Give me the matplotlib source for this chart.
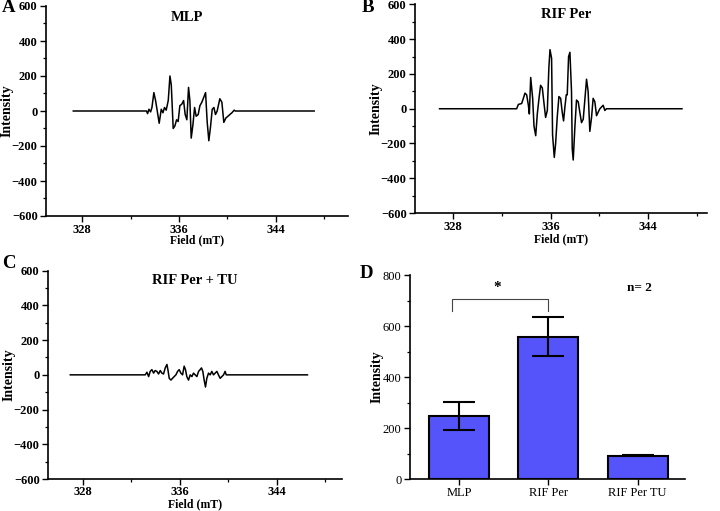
import matplotlib
matplotlib.use("Agg")
import matplotlib.pyplot as plt
from matplotlib.ticker import MultipleLocator

plt.rcParams['font.family'] = ['Liberation Serif', 'DejaVu Serif']

# ---- Data ----
field_A = [327.26, 333.32, 333.41, 333.52, 333.66, 333.77, 333.93, 334.07, 334.21, 334.37,
           334.54, 334.68, 334.81, 334.95, 335.12, 335.26, 335.37, 335.53, 335.67, 335.81,
           335.94, 336.08, 336.25, 336.39, 336.52, 336.66, 336.80, 336.91, 337.02, 337.16,
           337.30, 337.43, 337.60, 337.74, 337.90, 338.07, 338.21, 338.34, 338.48, 338.62,
           338.76, 338.90, 339.03, 339.17, 339.39, 339.56, 339.72, 339.89, 340.06, 340.22,
           340.39, 340.58, 340.66, 347.20]
int_A = [0, 0, -15, 10, -5, 20, 105, 60, 0, -70,
         10, -10, 20, 5, 60, 200, 150, -100, -85, -50,
         -60, 30, 40, 60, -20, -50, 135, 60, -155, -80,
         20, -30, -20, 30, 50, 80, 105, -60, -170, -90,
         10, 20, -20, 0, 70, 50, -65, -40, -30, -20,
         -10, 5, 0, 0]

field_B = [326.91, 333.22, 333.36, 333.63, 333.77, 333.90, 334.04, 334.18, 334.26, 334.37,
           334.53, 334.64, 334.78, 334.91, 335.05, 335.18, 335.32, 335.46, 335.59, 335.73,
           335.86, 335.95, 336.08, 336.16, 336.30, 336.41, 336.54, 336.68, 336.82, 336.95,
           337.06, 337.17, 337.28, 337.36, 337.47, 337.58, 337.71, 337.77, 337.85, 337.99,
           338.12, 338.26, 338.39, 338.53, 338.67, 338.80, 338.94, 339.07, 339.21, 339.35,
           339.48, 339.62, 339.76, 339.89, 340.03, 340.30, 340.44, 340.57, 346.75]
int_B = [0, 0, 25, 30, 60, 90, 80, 20, -30, 180,
         60, -100, -155, -30, 60, 135, 120, 30, -50, -10,
         240, 340, 290, -150, -280, -200, -50, 70, 60, -20,
         -70, 10, 80, 80, 300, 325, 100, -230, -295, -100,
         50, 40, -20, -80, -60, 50, 170, 100, -130, -50,
         60, 40, -40, -20, 0, 20, -10, 0, 0]

field_C = [326.99, 333.17, 333.31, 333.45, 333.58, 333.72, 333.86, 333.99, 334.13, 334.27,
           334.41, 334.54, 334.68, 334.82, 334.96, 335.04, 335.15, 335.29, 335.42, 335.56,
           335.70, 335.84, 335.97, 336.11, 336.25, 336.38, 336.49, 336.60, 336.74, 336.88,
           337.02, 337.15, 337.29, 337.43, 337.57, 337.70, 337.81, 337.92, 338.03, 338.14,
           338.25, 338.39, 338.53, 338.66, 338.80, 338.94, 339.08, 339.21, 339.35, 339.49,
           339.63, 339.76, 339.85, 346.55]
int_C = [0, 0, 15, -10, 20, 30, 10, 25, 20, 5,
         25, 10, 5, 40, 60, 30, -20, -30, -20, -10,
         0, 20, 30, 10, 0, 50, 30, -10, -30, 0,
         -10, 10, 0, -10, 20, 30, 40, 20, -30, -70,
         -20, 10, 0, 20, 0, 10, 20, 0, -20, -10,
         0, 20, 0, 0]

bar_labels = ["MLP", "RIF Per", "RIF Per TU"]
bar_values = [248, 558, 91]
bar_errors = [55, 76, 2]

spec_titles = ["MLP", "RIF Per", "RIF Per + TU"]
panel_letters = ["A", "B", "C", "D"]

fig = plt.figure(figsize=(7.2, 5.11), dpi=100)

def px_axes(left, top, right, bottom):
    W, H = 720.0, 511.0
    return fig.add_axes([left / W, 1 - bottom / H, (right - left) / W, (bottom - top) / H])

axA = px_axes(46, 6, 348, 216)
axB = px_axes(415, 4.5, 707, 213)
axC = px_axes(48, 270.7, 342, 479)
axD = px_axes(410, 275, 685, 479)

# (axes, x, y, xlim, title pos, ylabel x, xlabel y, x tick pad) in axes fractions
specs = [(axA, field_A, int_A, (325.0, 350.0), (0.467, 0.943), -0.129, -0.118, 2),
         (axB, field_B, int_B, (324.9, 348.8), (0.517, 0.954), -0.135, -0.125, 2),
         (axC, field_C, int_C, (325.15, 349.4), (0.50, 0.955), -0.134, -0.12, 1)]

for i, (ax, fx, iy, xl, tpos, ylx, xly, xpad) in enumerate(specs):
    ax.plot(fx, iy, color='black', lw=1.1)
    ax.set_xlim(*xl)
    ax.set_ylim(-600, 600)
    ax.xaxis.set_minor_locator(MultipleLocator(4))
    ax.set_xticks([328, 336, 344])
    ax.yaxis.set_major_locator(MultipleLocator(200))
    ax.yaxis.set_minor_locator(MultipleLocator(100))
    for s in ['top', 'right']:
        ax.spines[s].set_visible(False)
    for s in ['left', 'bottom']:
        ax.spines[s].set_linewidth(1.2)
    ax.tick_params(which='major', direction='out', length=4, width=1.0, labelsize=9, pad=2)
    ax.tick_params(axis='x', which='major', pad=xpad)
    ax.tick_params(which='minor', direction='out', length=2.5, width=0.9)
    for lab in ax.get_xticklabels() + ax.get_yticklabels():
        lab.set_fontweight('bold')
    ax.set_xlabel("Field (mT)", fontsize=8.5, fontweight='bold', va='center')
    ax.set_ylabel("Intensity", fontsize=10, fontweight='bold', va='center')
    ax.xaxis.set_label_coords(0.5, xly)
    ax.yaxis.set_label_coords(ylx, 0.5)
    ax.text(tpos[0], tpos[1], spec_titles[i], transform=ax.transAxes, ha='center', va='center',
            fontsize=10.5, fontweight='bold')

# ---- Bar panel ----
xpos = list(range(len(bar_labels)))
axD.bar(xpos, bar_values, width=0.67, color='#5454FA', edgecolor='black', linewidth=1.5, zorder=2)
axD.errorbar(xpos, bar_values, yerr=bar_errors, fmt='none', ecolor='black', elinewidth=1.5,
             capsize=11.5, capthick=1.5, zorder=3)
axD.set_xlim(-0.55, 2.53)
axD.set_ylim(0, 800)
axD.set_xticks(xpos)
axD.set_xticklabels(bar_labels)
axD.yaxis.set_major_locator(MultipleLocator(200))
axD.yaxis.set_minor_locator(MultipleLocator(100))
for s in ['top', 'right']:
    axD.spines[s].set_visible(False)
for s in ['left', 'bottom']:
    axD.spines[s].set_linewidth(1.2)
axD.tick_params(which='major', direction='out', length=4, width=1.0, labelsize=9, pad=2)
axD.tick_params(which='minor', direction='out', length=2.5, width=0.9)
axD.set_ylabel("Intensity", fontsize=10, fontweight='bold', va='center')
axD.yaxis.set_label_coords(-0.12, 0.5)
axD.plot([-0.08, -0.08, 1.0, 1.0], [660, 707, 707, 660], color='#444444', lw=0.8)
axD.text(0.43, 750, "*", ha='center', va='center', fontsize=11, fontweight='bold')
axD.text(2.02, 749, "n= 2", ha='center', va='center', fontsize=9.5, fontweight='bold')

# ---- Panel letters ----
letter_pos = [(2, 8), (362, 8), (2, 264), (360, 273)]
for L, (x, y) in zip(panel_letters, letter_pos):
    fig.text(x / 720, 1 - y / 511, L, ha='left', va='center', fontsize=13.5, fontweight='bold')

fig.savefig("out.png", dpi=100)
